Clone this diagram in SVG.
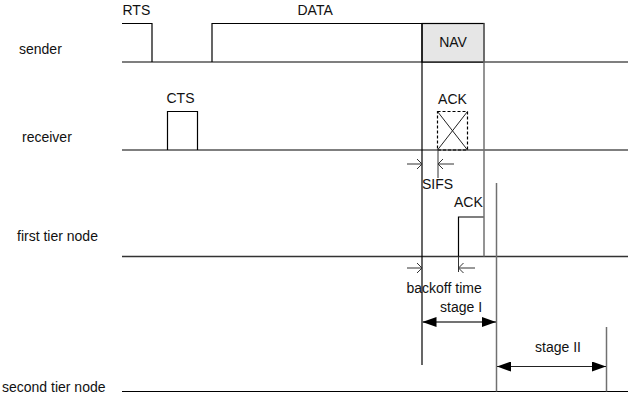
<svg xmlns="http://www.w3.org/2000/svg" width="628" height="400" viewBox="0 0 628 400">
<style>
text{font-family:"Liberation Sans",Arial,sans-serif;font-size:14px;fill:#111}
.ln{stroke:#000;stroke-width:1.2;fill:none}
.gl{stroke:#707070;stroke-width:1.5;fill:none}
.thin{stroke:#222;stroke-width:1;fill:none}
.oh{stroke:#333;stroke-width:1;fill:none}
</style>
<defs>
<marker id="fa" viewBox="0 0 14 10" refX="14" refY="5" markerWidth="14" markerHeight="10" markerUnits="userSpaceOnUse" orient="auto-start-reverse">
<path d="M0,0 L14,5 L0,10 Z" fill="#000"/>
</marker>
</defs>
<rect width="628" height="400" fill="#fff"/>
<g id="labels">
<text x="19" y="54">sender</text>
<text x="22" y="142">receiver</text>
<text x="17" y="241">first tier node</text>
<text x="2" y="392">second tier node</text>
</g>
<g id="sender">
<path class="ln" d="M122,23.5 H152 V62 M122,62 H628 M212,62 V23.5 H422"/>
<rect x="422" y="23.5" width="62" height="38.5" fill="#e6e6e6" stroke="#000" stroke-width="1.2"/>
<text x="122.5" y="15">RTS</text>
<text x="297.5" y="15">DATA</text>
<text x="453" y="47" text-anchor="middle">NAV</text>
</g>
<g id="receiver">
<path class="ln" d="M122,150 H628"/>
<path class="ln" d="M167.5,150 V111.5 H197.5 V150"/>
<text x="166.5" y="103">CTS</text>
<rect x="437.5" y="111.5" width="30" height="38.5" fill="none" stroke="#000" stroke-width="1.2" stroke-dasharray="3,2"/>
<path class="thin" d="M437.5,111.5 L467.5,150 M467.5,111.5 L437.5,150"/>
<text x="452.5" y="104" text-anchor="middle">ACK</text>
</g>
<g id="first-tier">
<path d="M122,256.5 H628" stroke="#333" stroke-width="1.5" fill="none"/>
<path class="ln" d="M458.5,256.5 V217 H484"/>
<text x="454" y="207">ACK</text>
</g>
<g id="second-tier">
<path class="ln" d="M122,391.5 H628"/>
</g>
<g id="connectors">
<path class="ln" d="M422,23.5 V365"/>
<path class="gl" d="M484,23.5 V256.5"/>
<path class="gl" d="M496.5,183 V391.5"/>
<path class="gl" d="M606.5,327 V391.5"/>
<path class="oh" d="M407,164 H422 M417,159 L422,164 L417,169"/>
<path class="oh" d="M454,164 H438 M443,159 L438,164 L443,169 M438,150 V178"/>
<path class="oh" d="M407,268 H422 M417,263 L422,268 L417,273" stroke="#777"/>
<path class="oh" d="M475,268 H458.5 M463.5,263 L458.5,268 L463.5,273 M458.5,256.5 V272" stroke="#777"/>
<path d="M422.5,322 H496" stroke="#444" stroke-width="1.5" marker-start="url(#fa)" marker-end="url(#fa)"/>
<path d="M497,366.5 H606" stroke="#222" stroke-width="1.2" marker-start="url(#fa)" marker-end="url(#fa)"/>
<text x="422" y="189">SIFS</text>
<text x="406.5" y="293">backoff time</text>
<text x="440" y="312">stage I</text>
<text x="535" y="351.5">stage II</text>
</g>
</svg>
